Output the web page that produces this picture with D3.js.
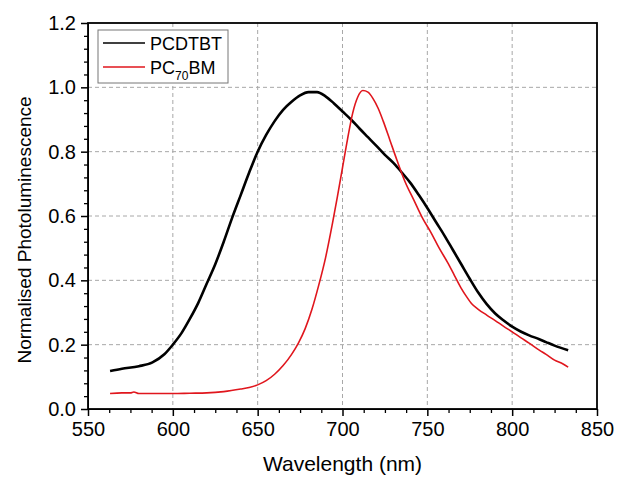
<!DOCTYPE html>
<html>
<head>
<meta charset="utf-8">
<script src="https://cdn.jsdelivr.net/npm/d3@7"></script>
<style>
body { margin: 0; background: #fff; }
text { font-family: "Liberation Sans", Arial, sans-serif; fill: #000; }
</style>
</head>
<body>
<div id="chart"></div>
<script>
// PCDTBT photoluminescence
const pcdtbtWl = [563,570,580,588,595,600,605,610,615,620,625,630,635,640,645,650,655,660,665,670,675,680,685,690,695,700,705,710,715,720,725,730,735,740,745,750,755,760,765,770,775,780,785,790,795,800,805,810,816,820,825,833];
const pcdtbtPL = [0.118,0.125,0.133,0.145,0.17,0.20,0.235,0.28,0.33,0.39,0.45,0.52,0.595,0.665,0.735,0.80,0.852,0.895,0.93,0.955,0.975,0.985,0.985,0.972,0.95,0.925,0.9,0.872,0.845,0.818,0.79,0.765,0.735,0.703,0.665,0.625,0.582,0.54,0.495,0.45,0.405,0.362,0.326,0.297,0.275,0.256,0.241,0.229,0.217,0.208,0.197,0.183];

// PC70BM photoluminescence
const pcbmWl = [563,570,575,577,580,590,600,610,620,630,640,645,650,655,660,665,670,674,678,682,686,690,694,697,700,703,706,709,712,715,718,721,724,728,732,737,742,747,752,757,762,766,770,773,776,780,785,790,795,800,805,810,816,820,825,830,833];
const pcbmPL = [0.048,0.05,0.05,0.053,0.048,0.048,0.048,0.049,0.05,0.054,0.062,0.067,0.075,0.088,0.108,0.135,0.17,0.205,0.25,0.31,0.385,0.47,0.575,0.66,0.75,0.84,0.92,0.97,0.99,0.985,0.965,0.935,0.895,0.835,0.775,0.705,0.65,0.595,0.55,0.50,0.455,0.415,0.375,0.35,0.328,0.31,0.292,0.275,0.257,0.24,0.222,0.205,0.183,0.17,0.152,0.14,0.13];

const xTicks = [550,600,650,700,750,800,850];
const yTicks = [0.0,0.2,0.4,0.6,0.8,1.0,1.2];
const seriesNames = ['PCDTBT','PC70BM'];
const seriesColors = ['#000000','#e0161d'];

const margin = {top:23, right:20, bottom:69, left:88};
const W = 617, H = 478;
const width = W - margin.left - margin.right;
const height = H - margin.top - margin.bottom;

const svg = d3.select('#chart')
  .append('svg')
  .attr('width', W)
  .attr('height', H);

const g = svg.append('g')
  .attr('transform', `translate(${margin.left},${margin.top})`);

const x = d3.scaleLinear().domain([550,850]).range([0,width]);
const y = d3.scaleLinear().domain([0,1.2]).range([height,0]);

// dashed grid
g.append('g')
  .selectAll('line')
  .data(xTicks.slice(1,-1))
  .enter().append('line')
  .attr('x1', d => x(d)).attr('x2', d => x(d))
  .attr('y1', 0).attr('y2', height)
  .attr('stroke','#a8a8a8').attr('stroke-dasharray','4,3');

g.append('g')
  .selectAll('line')
  .data(yTicks.slice(1,-1))
  .enter().append('line')
  .attr('y1', d => y(d)).attr('y2', d => y(d))
  .attr('x1', 0).attr('x2', width)
  .attr('stroke','#a8a8a8').attr('stroke-dasharray','4,3');

// minor ticks
const xMinor = d3.range(550, 850.1, 12.5).filter(v => !xTicks.includes(v));
const yMinor = d3.range(0, 1.2001, 0.04).filter(v => Math.abs(v*5 - Math.round(v*5)) > 1e-6);

g.append('g')
  .attr('transform', `translate(0,${height})`)
  .call(d3.axisBottom(x).tickValues(xMinor).tickSize(4).tickFormat(''))
  .call(a => a.select('.domain').remove())
  .selectAll('line').attr('stroke-width',1.3);

g.append('g')
  .call(d3.axisLeft(y).tickValues(yMinor).tickSize(4).tickFormat(''))
  .call(a => a.select('.domain').remove())
  .selectAll('line').attr('stroke-width',1.3);

// major axes
const xAxis = g.append('g')
  .attr('transform', `translate(0,${height})`)
  .call(d3.axisBottom(x).tickValues(xTicks).tickSize(7).tickPadding(6).tickSizeOuter(0).tickFormat(d3.format('d')));
xAxis.selectAll('text').style('font-size','20px');
xAxis.selectAll('line').attr('stroke-width',1.5);

const yAxis = g.append('g')
  .call(d3.axisLeft(y).tickValues(yTicks).tickSize(7).tickPadding(5).tickSizeOuter(0).tickFormat(d3.format('.1f')));
yAxis.selectAll('text').style('font-size','20px');
yAxis.selectAll('line').attr('stroke-width',1.5);

// frame
g.append('rect')
  .attr('width', width).attr('height', height)
  .attr('fill','none').attr('stroke','#000').attr('stroke-width',1.8);

// curves
const line = d3.line()
  .x(d => x(d[0]))
  .y(d => y(d[1]))
  .curve(d3.curveMonotoneX);

g.append('path')
  .datum(pcdtbtWl.map((w,i) => [w, pcdtbtPL[i]]))
  .attr('d', line)
  .attr('fill','none').attr('stroke',seriesColors[0]).attr('stroke-width',2.6);

g.append('path')
  .datum(pcbmWl.map((w,i) => [w, pcbmPL[i]]))
  .attr('d', line)
  .attr('fill','none').attr('stroke',seriesColors[1]).attr('stroke-width',1.6);

// axis titles
svg.append('text')
  .attr('x', margin.left + width/2).attr('y', 471)
  .attr('text-anchor','middle')
  .style('font-size','21px')
  .text('Wavelength (nm)');

svg.append('text')
  .attr('transform', 'translate(31,230) rotate(-90)')
  .attr('text-anchor','middle')
  .style('font-size','19px')
  .text('Normalised Photoluminescence');

// legend
const legend = svg.append('g').attr('transform','translate(98,30)');
legend.append('rect')
  .attr('width',130).attr('height',53)
  .attr('fill','#fff').attr('stroke','#777').attr('stroke-width',1);

const rows = legend.selectAll('.row')
  .data(seriesNames)
  .enter().append('g')
  .attr('class','row')
  .attr('transform', (d,i) => `translate(0,${13 + i*24})`);

rows.append('line')
  .attr('x1',5).attr('x2',47)
  .attr('stroke', (d,i) => seriesColors[i])
  .attr('stroke-width',1.5);

const labels = rows.append('text')
  .attr('x',52).attr('y',7)
  .style('font-size','18px');

labels.filter((d,i) => i === 0).text(d => d);
const pcbm = labels.filter((d,i) => i === 1);
pcbm.append('tspan').text('PC');
pcbm.append('tspan').attr('dy',6).style('font-size','12px').text('70');
pcbm.append('tspan').attr('dy',-6).text('BM');
</script>
</body>
</html>
